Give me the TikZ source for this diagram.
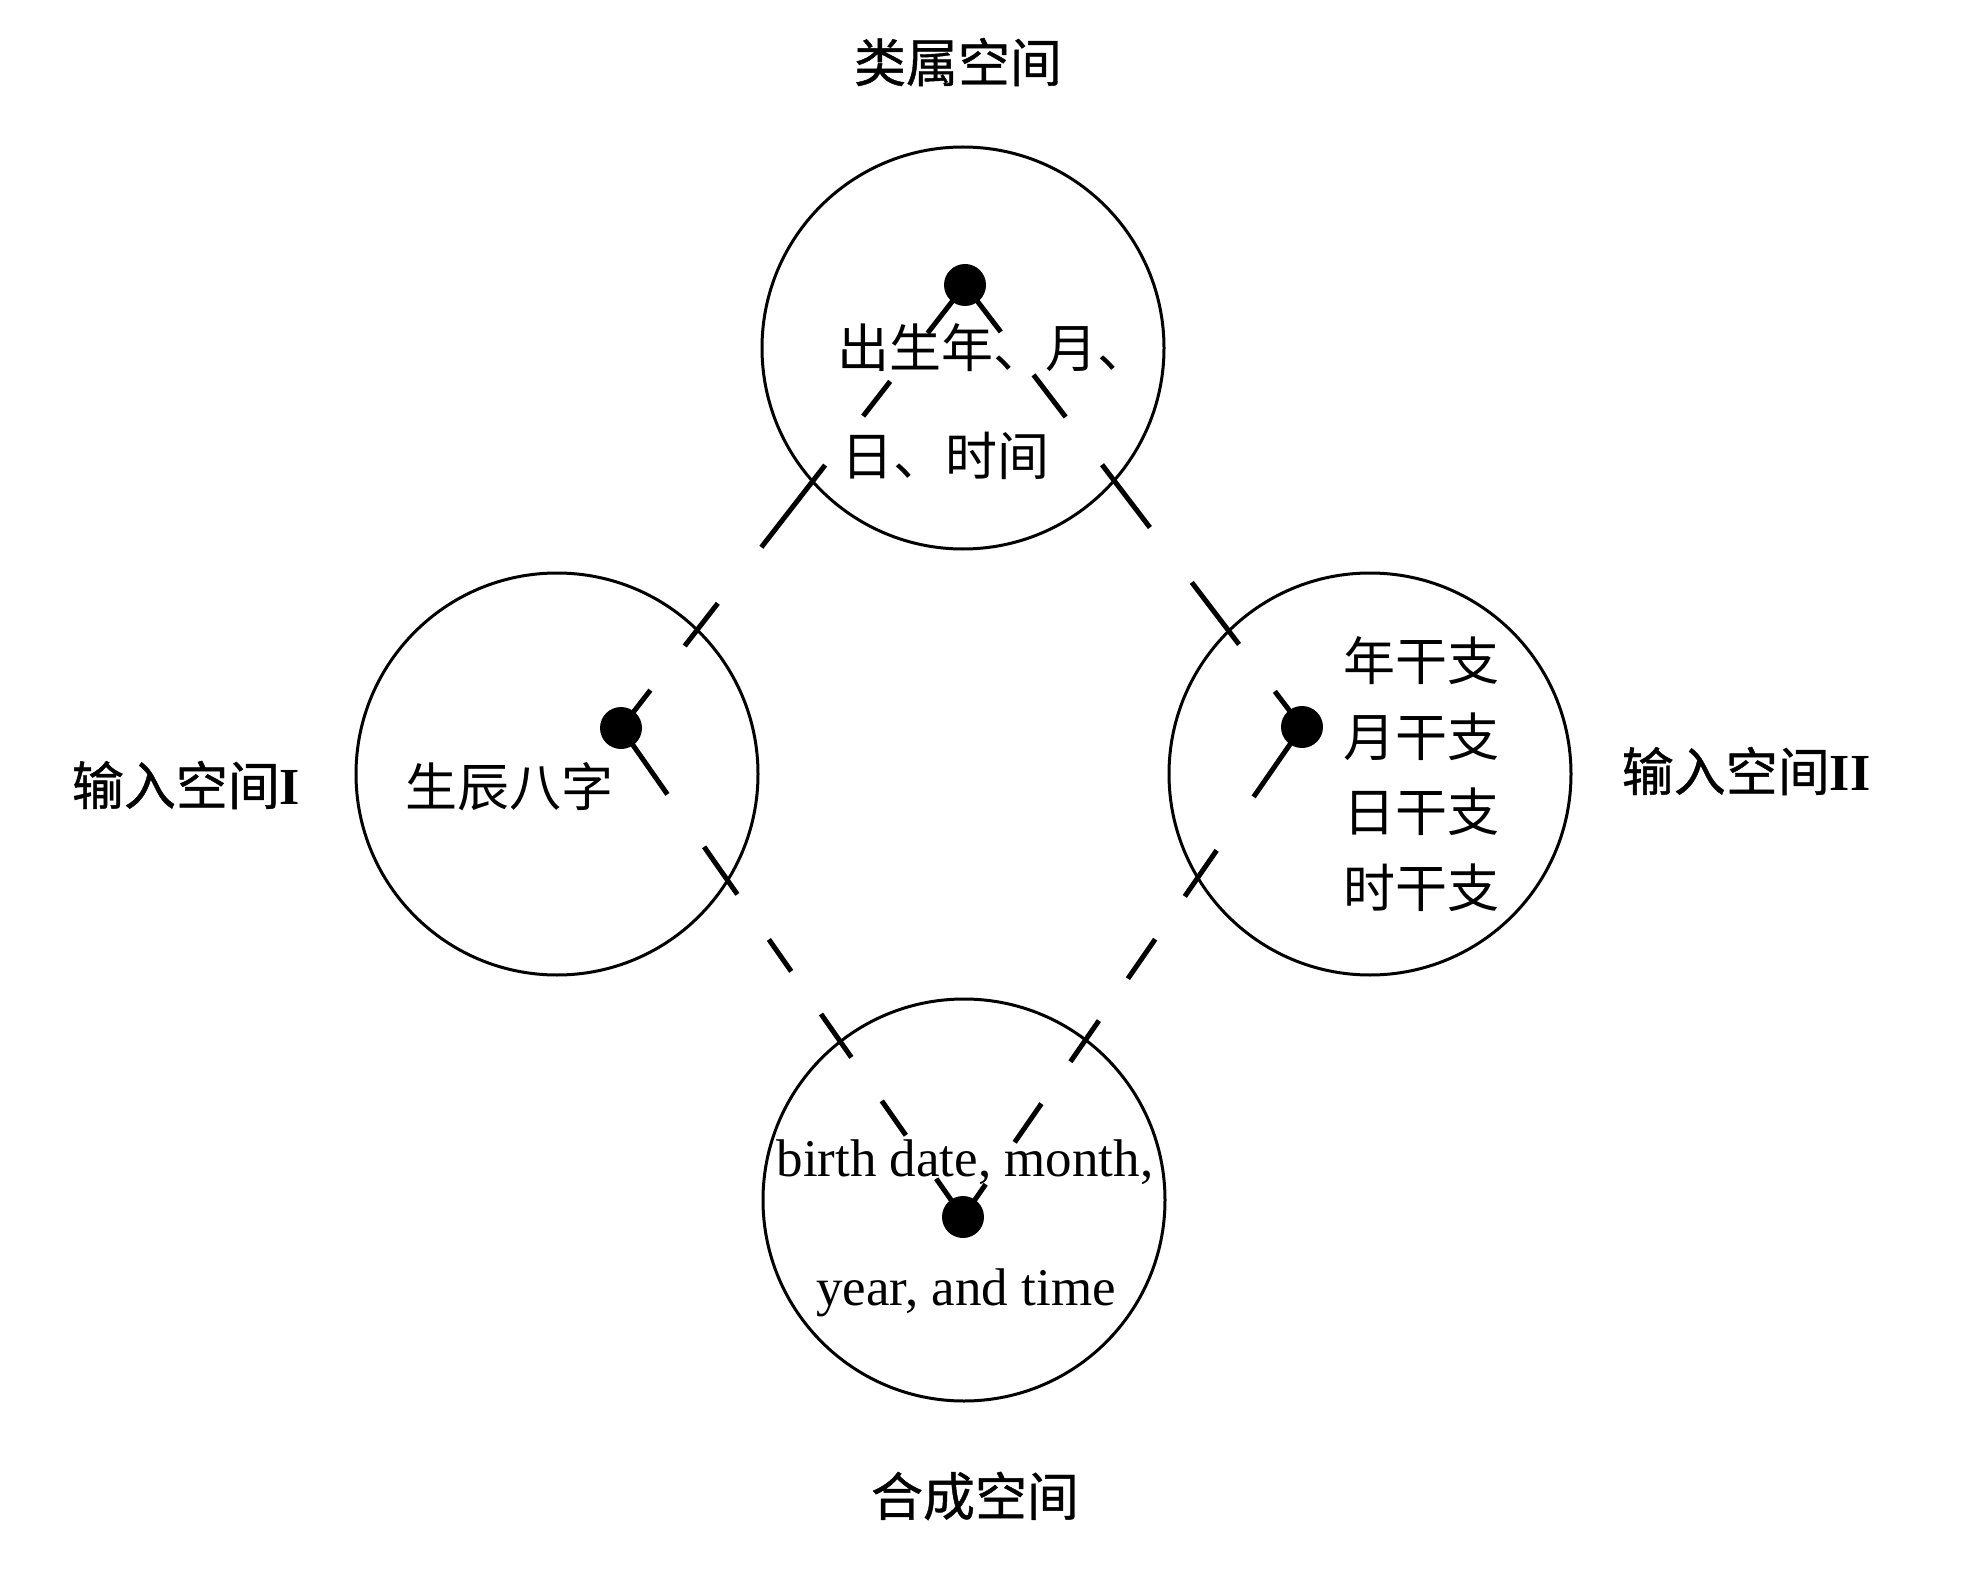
\documentclass[tikz,border=0pt]{standalone}
\usepackage{fontspec}
\setmainfont{Liberation Serif}
\newfontfamily\cjk{Noto Sans CJK SC}
\newfontfamily\cjkb[FakeBold=0.8]{Noto Sans CJK SC}
\begin{document}
\begin{tikzpicture}[x=1pt,y=-1pt,
  space/.style={circle,draw,line width=3pt,minimum size=402pt,inner sep=0pt},
  dot/.style={circle,fill,minimum size=42pt,inner sep=0pt},
  link/.style={line width=5pt},
  lbl/.style={font=\fontsize{52}{60}\selectfont\cjkb,inner sep=0pt},
  txt/.style={font=\fontsize{52}{60}\selectfont\cjk,inner sep=0pt,anchor=west},
  en/.style={font=\fontsize{53}{60}\selectfont,inner sep=0pt,anchor=base}]
\useasboundingbox (0,0) rectangle (1971,1594);
% spaces
\node[space] (G) at (963,348) {};
\node[space] (I1) at (557,774) {};
\node[space] (I2) at (1370,774) {};
\node[space] (B) at (964,1200) {};
% dot positions
\coordinate (dG) at (965,285);
\coordinate (d1) at (621,728);
\coordinate (d2) at (1302,727);
\coordinate (dB) at (963,1217);
% dashed connectors
\draw[link,dash pattern=on 61pt off 61pt on 44pt off 62pt on 104pt off 71pt on 54pt off 56pt on 60pt off 100pt] (dG) -- (d1);
\draw[link,dash pattern=on 59pt off 54pt on 53pt off 60pt on 79pt off 69pt on 78pt off 59pt on 60pt off 100pt] (dG) -- (d2);
\draw[link,dash pattern=on 81pt off 64pt on 58pt off 55pt on 39pt off 52pt on 53pt off 53pt on 42pt off 53pt on 60pt off 100pt] (d1) -- (dB);
\draw[link,dash pattern=on 85pt off 65pt on 56pt off 52pt on 48pt off 51pt on 50pt off 51pt on 47pt off 51pt on 60pt off 100pt] (d2) -- (dB);
% dots
\node[dot] (nG) at (dG) {};
\node[dot] (n1) at (d1) {};
\node[dot] (n2) at (d2) {};
\node[dot] (nB) at (dB) {};
% labels
\node[lbl] (tG) at (958,62) {类属空间};
\node[lbl] (t1) at (186,785) {输入空间{\rmfamily\bfseries I}};
\node[lbl] (t2) at (1746,771) {输入空间{\rmfamily\bfseries II}};
\node[lbl] (tB) at (975,1496) {合成空间};
% inner texts
\node[txt] (g1) at (837,348) {出生年、月、};
\node[txt] (g2) at (841,456) {日、时间};
\node[txt] (s1) at (405,787) {生辰八字};
\node[txt] (r1) at (1343,661) {年干支};
\node[txt] (r2) at (1343,737) {月干支};
\node[txt] (r3) at (1343,812) {日干支};
\node[txt] (r4) at (1343,888) {时干支};
\node[en] (e1) at (965,1176) {birth date, month,};
\node[en] (e2) at (966,1305) {year, and time};
\end{tikzpicture}
\end{document}
